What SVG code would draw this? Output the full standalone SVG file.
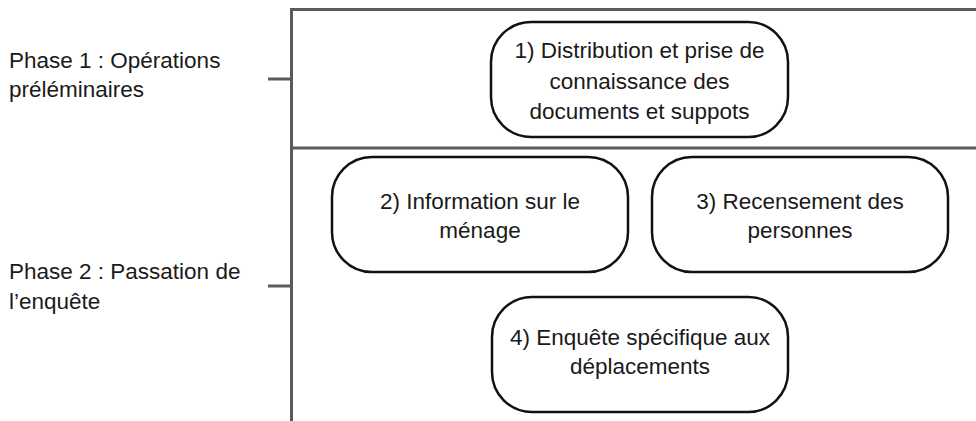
<svg xmlns="http://www.w3.org/2000/svg" width="976" height="421" viewBox="0 0 976 421">
<style>
.frame{stroke:#5a5a5a;stroke-width:3;fill:none}
.box{fill:#fff;stroke:#111;stroke-width:2.5}
.t{font-family:"Liberation Sans",Arial,sans-serif;font-size:22.5px;fill:#1a1a1a}
.c{text-anchor:middle}
</style>
<rect width="976" height="421" fill="#fff"/>
<g id="connectors">
<path class="frame" d="M976,9.5 H291.5 V421"/>
<path class="frame" d="M291.5,148 H976"/>
<path class="frame" d="M268,79 H291.5"/>
<path class="frame" d="M268,286 H291.5"/>
</g>
<g id="phase1">
<text class="t" x="9" y="68">Phase 1 : Opérations</text>
<text class="t" x="9" y="97">préléminaires</text>
</g>
<g id="phase2">
<text class="t" x="9" y="279">Phase 2 : Passation de</text>
<text class="t" x="9" y="309">l’enquête</text>
</g>
<g id="node1">
<rect class="box" x="491" y="22" width="297" height="115" rx="40" ry="40"/>
<text class="t c" x="639.5" y="58">1) Distribution et prise de</text>
<text class="t c" x="639.5" y="89">connaissance des</text>
<text class="t c" x="639.5" y="119">documents et suppots</text>
</g>
<g id="node2">
<rect class="box" x="332" y="157" width="296" height="115" rx="40" ry="40"/>
<text class="t c" x="480" y="209">2) Information sur le</text>
<text class="t c" x="480" y="238">ménage</text>
</g>
<g id="node3">
<rect class="box" x="652" y="157" width="296" height="115" rx="40" ry="40"/>
<text class="t c" x="800" y="209">3) Recensement des</text>
<text class="t c" x="800" y="238">personnes</text>
</g>
<g id="node4">
<rect class="box" x="492" y="297" width="296" height="115" rx="40" ry="40"/>
<text class="t c" x="640" y="345">4) Enquête spécifique aux</text>
<text class="t c" x="640" y="374">déplacements</text>
</g>
</svg>
